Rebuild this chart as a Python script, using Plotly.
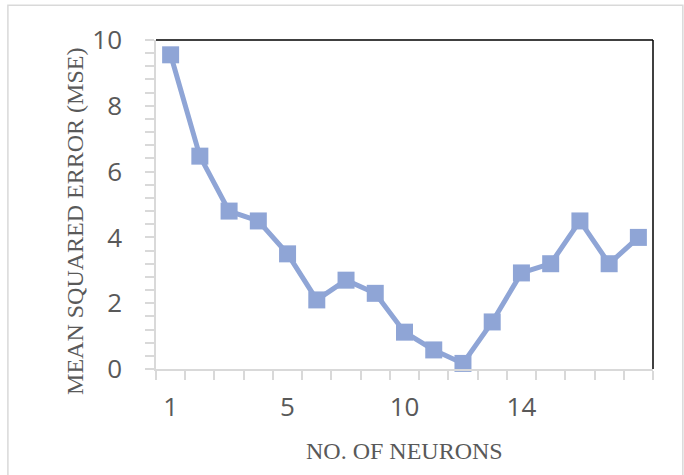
import plotly.graph_objects as go

neurons = list(range(1, 18))
mse = [9.55, 6.47, 4.8, 4.5, 3.5, 2.1, 2.7, 2.3, 1.12, 0.58, 0.17, 1.43, 2.92, 3.2, 4.5, 3.2, 4.0]
x_tick_pos = [1, 5, 9, 13]
x_tick_text = ["1", "5", "10", "14"]
y_ticks = [0, 2, 4, 6, 8, 10]

LINE = "rgb(143,165,214)"
GRAY = "#d9d9d9"
TXT = "#595959"

fig = go.Figure()
fig.add_trace(go.Scatter(
    x=neurons, y=mse, mode="lines+markers",
    line=dict(color=LINE, width=5),
    marker=dict(symbol="square", size=17, color=LINE),
    showlegend=False, cliponaxis=False,
))

fig.update_layout(
    width=684, height=475,
    margin=dict(l=156, r=31, t=40, b=106),
    paper_bgcolor="white", plot_bgcolor="white",
    xaxis=dict(
        range=[0.5, 17.5], showgrid=False, zeroline=False,
        showline=True, linecolor=GRAY, linewidth=1.5,
        tickmode="array", tickvals=x_tick_pos, ticktext=x_tick_text,
        ticks="", tickfont=dict(family="Open Sans", size=26, color=TXT),
        ticklabelstandoff=14,
        minor=dict(tick0=0.5, dtick=1, ticks="outside", ticklen=9,
                   tickcolor=GRAY, tickwidth=1.5, showgrid=False),
    ),
    yaxis=dict(
        range=[0, 10], showgrid=False, zeroline=False,
        showline=True, linecolor=GRAY, linewidth=1.5,
        tickmode="array", tickvals=y_ticks,
        ticks="outside", ticklen=9, tickcolor=GRAY, tickwidth=1.5,
        tickfont=dict(family="Open Sans", size=26, color=TXT),
        ticklabelstandoff=18,
        minor=dict(tick0=0, dtick=0.4, ticks="outside", ticklen=9,
                   tickcolor=GRAY, tickwidth=1.5, showgrid=False),
    ),
    shapes=[
        dict(type="line", xref="paper", yref="paper", x0=0, x1=1, y0=1, y1=1,
             line=dict(color="black", width=1.5)),
        dict(type="line", xref="paper", yref="paper", x0=1, x1=1, y0=0, y1=1,
             line=dict(color="black", width=1.5)),
        dict(type="rect", xref="paper", yref="paper", x0=-0.298, x1=1.060,
             y0=-0.34, y1=1.106, line=dict(color=GRAY, width=1.5), layer="below"),
    ],
    annotations=[
        dict(text="MEAN SQUARED ERROR (MSE)", xref="paper", yref="paper",
             x=-0.163, y=0.45, textangle=-90, showarrow=False,
             font=dict(family="Liberation Serif", size=24, color=TXT),
             xanchor="center", yanchor="middle"),
        dict(text="NO. OF NEURONS", xref="paper", yref="paper",
             x=0.5, y=-0.249, showarrow=False,
             font=dict(family="Liberation Serif", size=24, color=TXT),
             xanchor="center", yanchor="middle"),
    ],
)

fig.write_html("out.html")
